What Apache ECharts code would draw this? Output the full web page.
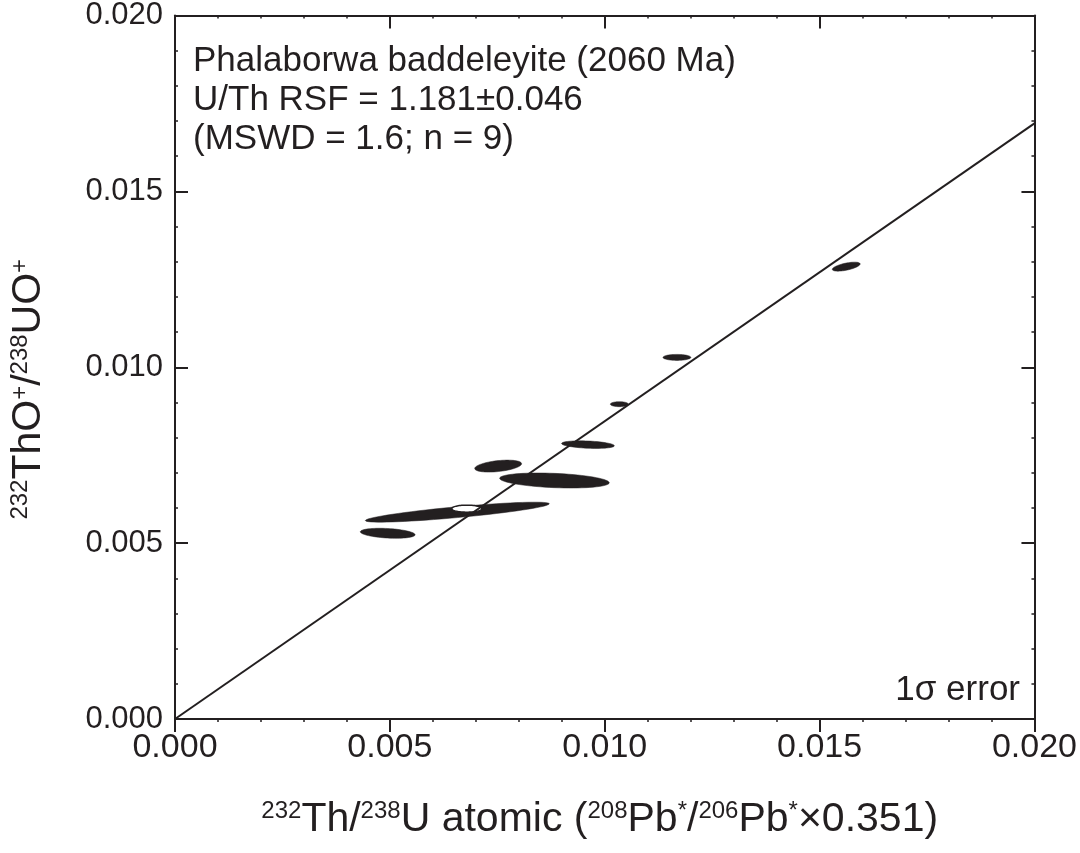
<!DOCTYPE html>
<html><head><meta charset="utf-8">
<script src="https://cdn.jsdelivr.net/npm/echarts@6/dist/echarts.min.js"></script>
<style>html,body{margin:0;padding:0;background:#fff}#c{width:1080px;height:853px}</style>
</head><body><div id="c"></div>
<script>
// Ellipse data: centre x, centre y, 1-sigma x, 1-sigma y, correlation
var cx   = [0.00495, 0.00657, 0.00752, 0.00883, 0.00961, 0.01034, 0.01168, 0.01562, 0.00679];
var cy   = [0.00528, 0.00588, 0.00719, 0.00678, 0.00780, 0.00895, 0.01028, 0.01286, 0.00598];
var sx   = [0.000637, 0.00214, 0.000545, 0.001275, 0.000614, 0.000209, 0.000324, 0.000324, 0.000348];
var sy   = [0.000142, 0.000284, 0.00017, 0.000213, 0.000108, 0.000071, 0.000085, 0.000128, 0.0001];
var rho  = [-0.3, 0.84, 0.4, -0.3, -0.3, 0.0, 0.0, 0.6, 0.0];
var hollow = [0, 0, 0, 0, 0, 0, 0, 0, 1];
var RSF = 1.181;
var xTicks = [0, 0.005, 0.010, 0.015, 0.020];
var yTicks = [0, 0.005, 0.010, 0.015, 0.020];

var C = '#231f20';
var FONT = 'Liberation Sans, Arial, sans-serif';
var chart = echarts.init(document.getElementById('c'));
var data = cx.map(function(v,i){ return [v, cy[i], sx[i], sy[i], rho[i], hollow[i]]; });
data.sort(function(a,b){ return a[5]-b[5]; });

function fmt(v){ return v.toFixed(3); }
function axisCommon(extra){
  var o = {
    type:'value', min:xTicks[0], max:xTicks[xTicks.length-1], interval:xTicks[1]-xTicks[0],
    axisLine:{show:true, onZero:false, lineStyle:{color:C, width:2}},
    splitLine:{show:false},
    minorTick:{show:true, splitNumber:5, length:3, lineStyle:{color:C, width:1.5}}
  };
  return Object.assign(o, extra);
}
var supStyle = {fontSize:24, fontFamily:FONT, color:C, verticalAlign:'top', padding:[0,0,16,0]};
var option = {
  animation:false,
  backgroundColor:'#fff',
  grid:{left:172, right:45, top:15, bottom:134, containLabel:false},
  xAxis:[
    axisCommon({
      position:'bottom',
      axisTick:{show:true, inside:false, length:13, lineStyle:{color:C, width:2}},
      axisLabel:{show:true, formatter:fmt, color:C, fontSize:34, fontFamily:FONT, margin:12},
      name:'{s|232}Th/{s|238}U atomic ({s|208}Pb{s|*}/{s|206}Pb{s|*}×0.351)',
      nameLocation:'middle', nameGap:80,
      nameTextStyle:{color:C, fontSize:41, fontFamily:FONT, padding:[0,10,0,0], rich:{s:supStyle}}
    }),
    axisCommon({
      position:'top',
      axisTick:{show:true, inside:true, length:13, lineStyle:{color:C, width:2}},
      axisLabel:{show:false}
    })
  ],
  yAxis:[
    axisCommon({
      min:yTicks[0], max:yTicks[yTicks.length-1], interval:yTicks[1]-yTicks[0],
      position:'left',
      axisTick:{show:true, inside:true, length:13, lineStyle:{color:C, width:2}},
      axisLabel:{show:true, formatter:fmt, color:C, fontSize:31, fontFamily:FONT, margin:12},
      name:'{s|232}ThO{s|+}/{s|238}UO{s|+}',
      nameLocation:'middle', nameGap:126,
      nameTextStyle:{color:C, fontSize:41, fontFamily:FONT, padding:[0,44,0,0], rich:{s:supStyle}}
    }),
    axisCommon({
      min:yTicks[0], max:yTicks[yTicks.length-1], interval:yTicks[1]-yTicks[0],
      position:'right',
      axisTick:{show:true, inside:true, length:13, lineStyle:{color:C, width:2}},
      axisLabel:{show:false}
    })
  ],
  graphic:[
    {type:'text', left:193, top:42, style:{
      text:'Phalaborwa baddeleyite (2060 Ma)\nU/Th RSF = 1.181±0.046\n(MSWD = 1.6; n = 9)',
      fill:C, font:'35px '+FONT, lineHeight:39}},
    {type:'text', right:60, top:673, style:{text:'1σ error', fill:C, font:'35px '+FONT}}
  ],
  series:[
    {type:'line', xAxisIndex:0, yAxisIndex:0, symbol:'none', silent:true,
     lineStyle:{color:C, width:2}, clip:true,
     data:[[0,0],[xTicks[xTicks.length-1], xTicks[xTicks.length-1]/RSF]]},
    {type:'custom', xAxisIndex:0, yAxisIndex:0, clip:true, data:data,
     renderItem:function(params, api){
       var x0=api.value(0), y0=api.value(1), a=api.value(2), b=api.value(3), r=api.value(4), h=api.value(5);
       var k=Math.sqrt(1-r*r), pts=[];
       for(var i=0;i<72;i++){
         var t=i/72*2*Math.PI;
         pts.push(api.coord([x0+a*Math.cos(t), y0+b*(r*Math.cos(t)+k*Math.sin(t))]));
       }
       return {type:'polygon', shape:{points:pts},
         style: h ? {fill:'#fff', stroke:C, lineWidth:1.5} : {fill:C, stroke:C, lineWidth:0.5}};
     }}
  ]
};
chart.setOption(option);
</script></body></html>
